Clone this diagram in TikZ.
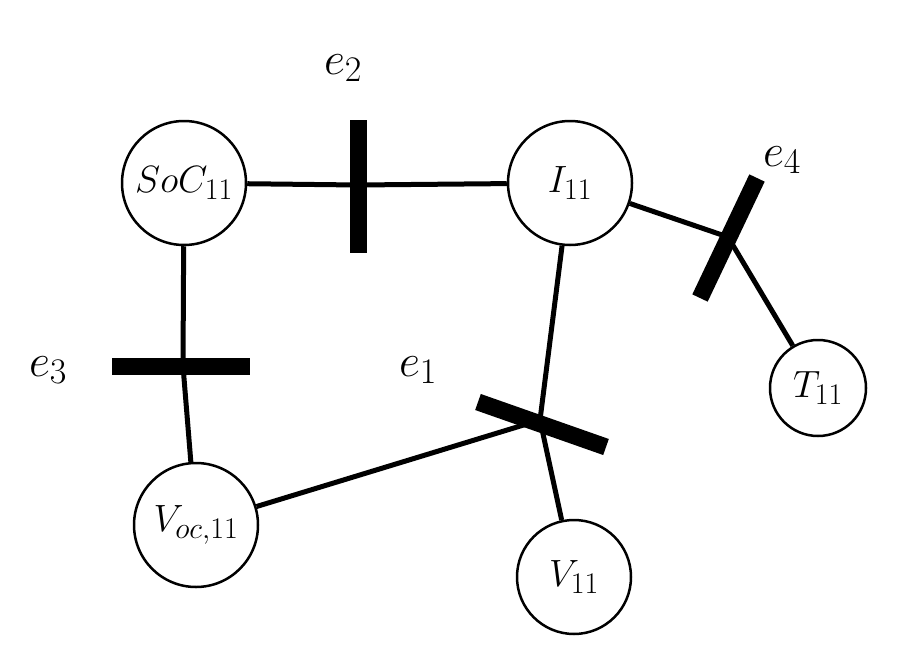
\RequirePackage{fix-cm}
\documentclass[tikz,border=0pt]{standalone}
\usepackage{amsmath}
\usetikzlibrary{positioning}
\DeclareMathSizes{38}{38}{30}{24}
\DeclareMathSizes{46}{46}{36}{28}
\tikzset{
  var/.style={circle, draw, line width=2.5pt, fill=white, inner sep=0pt, font=\fontsize{38}{44}\selectfont},
  edge/.style={line width=5pt},
  bar/.style={line width=17pt},
  lbl/.style={font=\fontsize{46}{54}\selectfont}
}
\begin{document}
\begin{tikzpicture}[x=1pt,y=-1pt]

\useasboundingbox (0,0) rectangle (910,661);

% Draw Variables

\node[var, minimum size=124pt] (soc) at (184,183) {$SoC_{11}$};
\node[var, minimum size=124pt] (i) at (570,183) {$I_{11}$};
\node[var, minimum size=96pt] (t) at (818,388) {$T_{11}$};
\node[var, minimum size=124pt] (voc) at (196,525) {$V_{oc,11}$};
\node[var, minimum size=114pt] (v) at (574,577) {$V_{11}$};

% Factor junctions

\coordinate (f1) at (540,420);
\coordinate (f2) at (358,185);
\coordinate (f3) at (183,366);
\coordinate (f4) at (728,237);

% Draw Edges

\draw[edge] (soc) -- (f2) -- (i);
\draw[edge] (soc) -- (f3) -- (voc);
\draw[edge] (i) -- (f4) -- (t);
\draw[edge] (i) -- (f1) -- (v);
\draw[edge] (voc) -- (f1);

% Draw Factors

\draw[bar] (358,120) -- (358,253);
\draw[bar] (112,366) -- (250,366);
\draw[bar] (700,298) -- (757,178);
\draw[bar] (478,402) -- (606,447);

% Draw Labels

\node[lbl] (e2) at (343,68) {$e_2$};
\node[lbl] (e4) at (782,160) {$e_4$};
\node[lbl] (e3) at (48,370) {$e_3$};
\node[lbl] (e1) at (418,370) {$e_1$};

\end{tikzpicture}
\end{document}
